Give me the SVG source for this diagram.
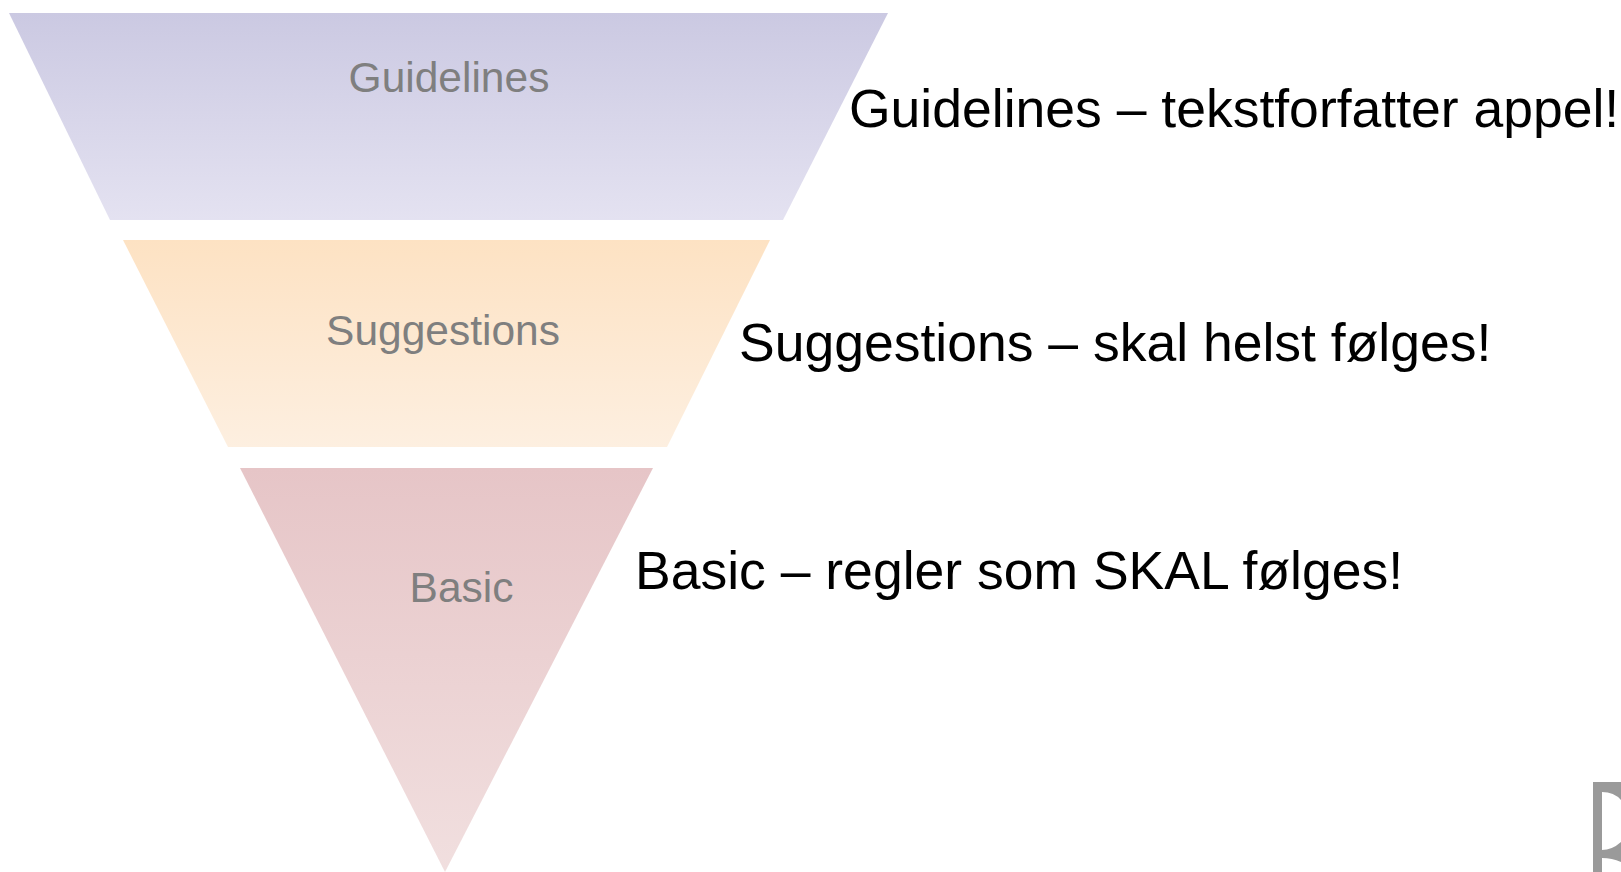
<svg xmlns="http://www.w3.org/2000/svg" width="1621" height="872" viewBox="0 0 1621 872">
<defs>
<linearGradient id="g1" x1="0" y1="0" x2="0" y2="1"><stop offset="0" stop-color="#cbc9e2"/><stop offset="1" stop-color="#e4e2f1"/></linearGradient>
<linearGradient id="g2" x1="0" y1="0" x2="0" y2="1"><stop offset="0" stop-color="#fde2c3"/><stop offset="1" stop-color="#fdefe0"/></linearGradient>
<linearGradient id="g3" x1="0" y1="0" x2="0" y2="1"><stop offset="0" stop-color="#e6c5c7"/><stop offset="1" stop-color="#f1dfdf"/></linearGradient>
</defs>
<style>
.inner{font-family:"Liberation Sans",Arial,sans-serif;font-size:42.5px;fill:#7f7f7f;text-anchor:middle}
.desc{font-family:"Liberation Sans",Arial,sans-serif;font-size:53.5px;fill:#000}
</style>
<rect width="1621" height="872" fill="#fff"/>
<g id="guidelines">
<polygon points="9,13 888,13 783,220 110,220" fill="url(#g1)"/>
<text class="inner" x="449" y="92">Guidelines</text>
</g>
<g id="suggestions">
<polygon points="123,240 770,240 667,447 228,447" fill="url(#g2)"/>
<text class="inner" x="443" y="345">Suggestions</text>
</g>
<g id="basic">
<polygon points="240,468 653,468 445,872" fill="url(#g3)"/>
<text class="inner" x="461.5" y="602">Basic</text>
</g>
<g id="descriptions">
<text class="desc" x="849" y="127">Guidelines – tekstforfatter appel!</text>
<text class="desc" x="739" y="361">Suggestions – skal helst følges!</text>
<text class="desc" x="635" y="589">Basic – regler som SKAL følges!</text>
</g>
<g id="corner-mark">
<path d="M1593,782 H1621 V800 Q1614,792 1602,792 V850 Q1612,850 1621,842 V862 Q1612,858 1602,858 V872 H1593 Z" fill="#9a9a9a"/>
</g>
<g id="connectors"></g>
</svg>
